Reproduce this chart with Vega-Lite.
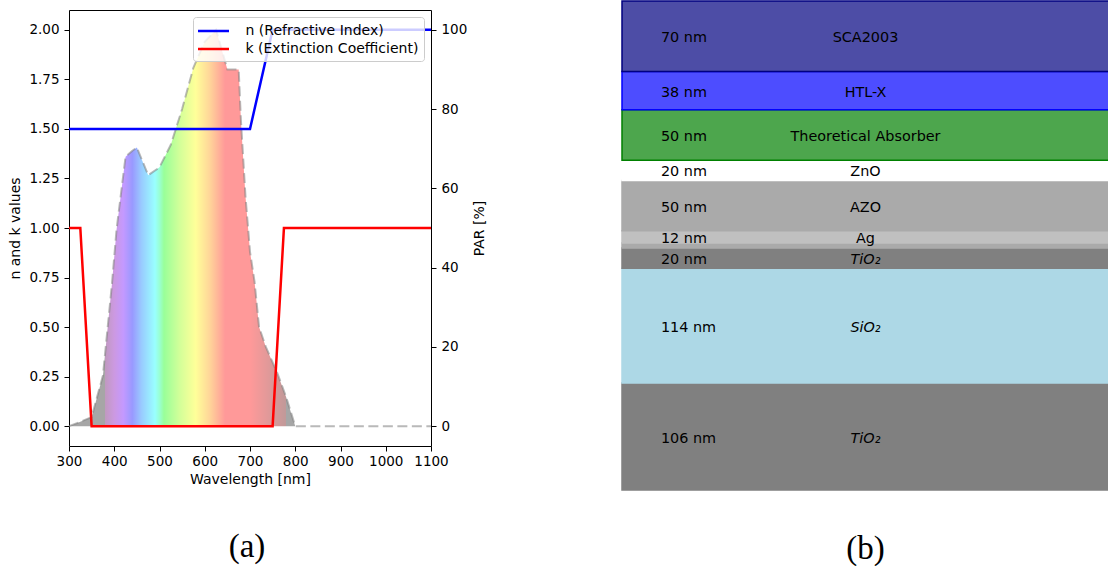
{
  "$schema": "https://vega.github.io/schema/vega-lite/v6.json",
  "padding": {"left": 8, "top": 0, "right": 0, "bottom": 0},
  "background": "white",
  "spacing": 133,
  "resolve": {"legend": {"color": "independent"}},
  "config": {
    "font": "DejaVu Sans",
    "view": {"stroke": "black", "strokeWidth": 1},
    "axis": {
      "grid": false, "domain": false,
      "tickColor": "black", "tickSize": 5, "tickWidth": 1,
      "labelColor": "black", "labelFontSize": 13.5, "labelFont": "DejaVu Sans", "labelPadding": 5,
      "labelFlush": false, "labelOverlap": false,
      "titleFont": "DejaVu Sans", "titleFontSize": 14, "titleFontWeight": "normal", "titleColor": "black"
    },
    "title": {"font": "Liberation Serif", "fontSize": 33, "fontWeight": "normal", "color": "black"}
  },
  "datasets": {
    "par": [
      {"wavelength": 300, "par": 0},
      {"wavelength": 325, "par": 1.1},
      {"wavelength": 350, "par": 2.3},
      {"wavelength": 375, "par": 12.8},
      {"wavelength": 395, "par": 36},
      {"wavelength": 405, "par": 49.5},
      {"wavelength": 425, "par": 68},
      {"wavelength": 440, "par": 69.5},
      {"wavelength": 450, "par": 70.3},
      {"wavelength": 475, "par": 63.3},
      {"wavelength": 500, "par": 65.3},
      {"wavelength": 525, "par": 71},
      {"wavelength": 550, "par": 80},
      {"wavelength": 575, "par": 90.5},
      {"wavelength": 600, "par": 97},
      {"wavelength": 625, "par": 100},
      {"wavelength": 650, "par": 90},
      {"wavelength": 675, "par": 90},
      {"wavelength": 680, "par": 77},
      {"wavelength": 690, "par": 58},
      {"wavelength": 700, "par": 44},
      {"wavelength": 710, "par": 36.5},
      {"wavelength": 720, "par": 25},
      {"wavelength": 735, "par": 20},
      {"wavelength": 760, "par": 13.5},
      {"wavelength": 780, "par": 7.3},
      {"wavelength": 800, "par": 0},
      {"wavelength": 900, "par": 0},
      {"wavelength": 1000, "par": 0},
      {"wavelength": 1100, "par": 0}
    ],
    "nk": [
      {"series": "n (Refractive Index)", "wavelength": 300, "value": 1.5},
      {"series": "n (Refractive Index)", "wavelength": 700, "value": 1.5},
      {"series": "n (Refractive Index)", "wavelength": 750, "value": 2.0},
      {"series": "n (Refractive Index)", "wavelength": 1100, "value": 2.0},
      {"series": "k (Extinction Coefficient)", "wavelength": 300, "value": 1},
      {"series": "k (Extinction Coefficient)", "wavelength": 325, "value": 1},
      {"series": "k (Extinction Coefficient)", "wavelength": 350, "value": 0},
      {"series": "k (Extinction Coefficient)", "wavelength": 750, "value": 0},
      {"series": "k (Extinction Coefficient)", "wavelength": 775, "value": 1},
      {"series": "k (Extinction Coefficient)", "wavelength": 1100, "value": 1}
    ],
    "layers": [
      {"position": 1, "layer": "SCA2003", "name": "SCA2003", "thickness": 70, "tlabel": "70 nm"},
      {"position": 2, "layer": "HTL-X", "name": "HTL-X", "thickness": 38, "tlabel": "38 nm"},
      {"position": 3, "layer": "Theoretical Absorber", "name": "Theoretical Absorber", "thickness": 50, "tlabel": "50 nm"},
      {"position": 4, "layer": "ZnO", "name": "ZnO", "thickness": 20, "tlabel": "20 nm"},
      {"position": 5, "layer": "AZO", "name": "AZO", "thickness": 50, "tlabel": "50 nm"},
      {"position": 6, "layer": "Ag", "name": "Ag", "thickness": 12, "tlabel": "12 nm"},
      {"position": 7, "layer": "interlayer", "name": "", "thickness": 5, "tlabel": ""},
      {"position": 8, "layer": "TiO2", "name": "TiO₂", "thickness": 20, "tlabel": "20 nm"},
      {"position": 9, "layer": "SiO2", "name": "SiO₂", "thickness": 114, "tlabel": "114 nm"},
      {"position": 10, "layer": "TiO2", "name": "TiO₂", "thickness": 106, "tlabel": "106 nm"}
    ]
  },
  "hconcat": [
    {
      "width": 362,
      "height": 436,
      "title": {"text": "(a)", "orient": "bottom", "anchor": "middle", "offset": 44, "frame": "group", "dx": -3},
      "layer": [
        {
          "data": {"name": "par"},
          "encoding": {
            "x": {
              "field": "wavelength", "type": "quantitative",
              "scale": {"domain": [300, 1100], "nice": false, "zero": false},
              "axis": {"orient": "bottom", "values": [300, 400, 500, 600, 700, 800, 900, 1000, 1100], "format": "d", "title": "Wavelength [nm]", "labelPadding": 3, "titlePadding": 5}
            },
            "y": {
              "field": "par", "type": "quantitative",
              "scale": {"domain": [-5, 105], "nice": false, "zero": false},
              "axis": {"orient": "right", "values": [0, 20, 40, 60, 80, 100], "title": "PAR [%]", "titleAngle": 270, "titleBaseline": "top", "titlePadding": 6}
            }
          },
          "layer": [
            {
              "transform": [{"filter": {"field": "wavelength", "lte": 800}}],
              "mark": {
                "type": "area",
                "stroke": null,
                "opacity": 1,
                "fill": {
                  "gradient": "linear", "x1": 0, "x2": 1, "y1": 0, "y2": 0,
                  "stops": [
                    {"offset": 0, "color": "#a6a6a6"},
                    {"offset": 0.16, "color": "#a6a6a6"},
                    {"offset": 0.1601, "color": "#c099c0"},
                    {"offset": 0.2, "color": "#cc99e1"},
                    {"offset": 0.24, "color": "#c499ff"},
                    {"offset": 0.28, "color": "#9999ff"},
                    {"offset": 0.32, "color": "#99caff"},
                    {"offset": 0.38, "color": "#99ffff"},
                    {"offset": 0.40, "color": "#99ffd3"},
                    {"offset": 0.42, "color": "#99ff99"},
                    {"offset": 0.49, "color": "#d3ff99"},
                    {"offset": 0.56, "color": "#ffff99"},
                    {"offset": 0.62, "color": "#ffd799"},
                    {"offset": 0.69, "color": "#ff9999"},
                    {"offset": 0.80, "color": "#ff9999"},
                    {"offset": 0.88, "color": "#e19999"},
                    {"offset": 0.9599, "color": "#c09999"},
                    {"offset": 0.96, "color": "#a6a6a6"},
                    {"offset": 1, "color": "#a6a6a6"}
                  ]
                }
              },
              "encoding": {"y2": {"datum": 0}}
            },
            {
              "mark": {"type": "line", "stroke": "gray", "strokeWidth": 2, "strokeDash": [10, 4.5], "opacity": 0.55}
            }
          ]
        },
        {
          "data": {"name": "nk"},
          "mark": {"type": "line", "strokeWidth": 2.5},
          "encoding": {
            "x": {
              "field": "wavelength", "type": "quantitative",
              "axis": {"orient": "bottom", "values": [300, 400, 500, 600, 700, 800, 900, 1000, 1100], "format": "d", "title": "Wavelength [nm]", "labelPadding": 3, "titlePadding": 5}
            },
            "y": {
              "field": "value", "type": "quantitative",
              "scale": {"domain": [-0.1, 2.1], "nice": false, "zero": false},
              "axis": {"orient": "left", "values": [0, 0.25, 0.5, 0.75, 1, 1.25, 1.5, 1.75, 2], "format": ".2f", "title": "n and k values", "titlePadding": 6}
            },
            "color": {
              "field": "series", "type": "nominal",
              "scale": {"domain": ["n (Refractive Index)", "k (Extinction Coefficient)"], "range": ["#0000ff", "#ff0000"]},
              "legend": {
                "title": null, "orient": "top-right", "offset": 7, "padding": 5,
                "fillColor": "rgba(255,255,255,0.8)", "strokeColor": "#cccccc", "cornerRadius": 3,
                "labelFontSize": 14, "labelFont": "DejaVu Sans", "labelColor": "black", "labelLimit": 300,
                "symbolType": "M-2,0H2", "symbolSize": 240, "symbolStrokeWidth": 2.5,
                "symbolOffset": 6.5, "labelOffset": 23, "rowPadding": 2
              }
            }
          }
        }
      ],
      "resolve": {"scale": {"y": "independent"}}
    },
    {
      "width": 487,
      "height": 480,
      "view": {"stroke": null},
      "title": {"text": "(b)", "orient": "bottom", "anchor": "middle", "offset": 42, "frame": "group"},
      "data": {"name": "layers"},
      "transform": [
        {"stack": "thickness", "groupby": [], "sort": [{"field": "position", "order": "ascending"}], "as": ["y0", "y1"]}
      ],
      "layer": [
        {
          "mark": {"type": "rect", "strokeWidth": 1.5},
          "encoding": {
            "x": {"datum": 0, "type": "quantitative", "scale": {"domain": [0, 1], "nice": false, "zero": false}, "axis": null},
            "x2": {"datum": 1},
            "y": {"field": "y0", "type": "quantitative", "scale": {"domain": [9, 485], "nice": false, "zero": false, "reverse": true}, "axis": null},
            "y2": {"field": "y1"},
            "fill": {
              "field": "layer", "type": "nominal", "legend": null,
              "scale": {
                "domain": ["SCA2003", "HTL-X", "Theoretical Absorber", "ZnO", "AZO", "Ag", "interlayer", "TiO2", "SiO2"],
                "range": ["#4d4da6", "#4d4dff", "#4da64d", "#ffffff", "#aaaaaa", "#c0c0c0", "#aaaaaa", "#808080", "#add8e6"]
              }
            },
            "stroke": {
              "field": "layer", "type": "nominal", "legend": null,
              "scale": {
                "domain": ["SCA2003", "HTL-X", "Theoretical Absorber", "ZnO", "AZO", "Ag", "interlayer", "TiO2", "SiO2"],
                "range": ["#000080", "#0000ff", "#008000", "#ffffff", "#aaaaaa", "#c0c0c0", "#aaaaaa", "#808080", "#add8e6"]
              }
            },
            "order": {"field": "position", "sort": "descending"}
          }
        },
        {
          "transform": [
            {"fold": ["y0", "y1"], "as": ["edge", "depth"]},
            {"aggregate": [{"op": "mean", "field": "depth", "as": "mid"}], "groupby": ["position", "layer", "name", "tlabel"]}
          ],
          "layer": [
            {
              "mark": {"type": "text", "align": "left", "baseline": "middle", "dy": 2, "fontSize": 14.4, "color": "black", "font": "DejaVu Sans"},
              "encoding": {
                "x": {"datum": 0.08, "type": "quantitative"},
                "y": {"field": "mid", "type": "quantitative"},
                "text": {"field": "tlabel", "type": "nominal"}
              }
            },
            {
              "transform": [{"filter": {"not": {"field": "layer", "oneOf": ["TiO2", "SiO2"]}}}],
              "mark": {"type": "text", "align": "center", "baseline": "middle", "dy": 2, "fontSize": 14.4, "color": "black", "font": "DejaVu Sans"},
              "encoding": {
                "x": {"datum": 0.5, "type": "quantitative"},
                "y": {"field": "mid", "type": "quantitative"},
                "text": {"field": "name", "type": "nominal"}
              }
            },
            {
              "transform": [{"filter": {"field": "layer", "oneOf": ["TiO2", "SiO2"]}}],
              "mark": {"type": "text", "align": "center", "baseline": "middle", "dy": 2, "fontSize": 14.4, "fontStyle": "italic", "color": "black", "font": "DejaVu Sans"},
              "encoding": {
                "x": {"datum": 0.5, "type": "quantitative"},
                "y": {"field": "mid", "type": "quantitative"},
                "text": {"field": "name", "type": "nominal"}
              }
            }
          ]
        }
      ]
    }
  ]
}
